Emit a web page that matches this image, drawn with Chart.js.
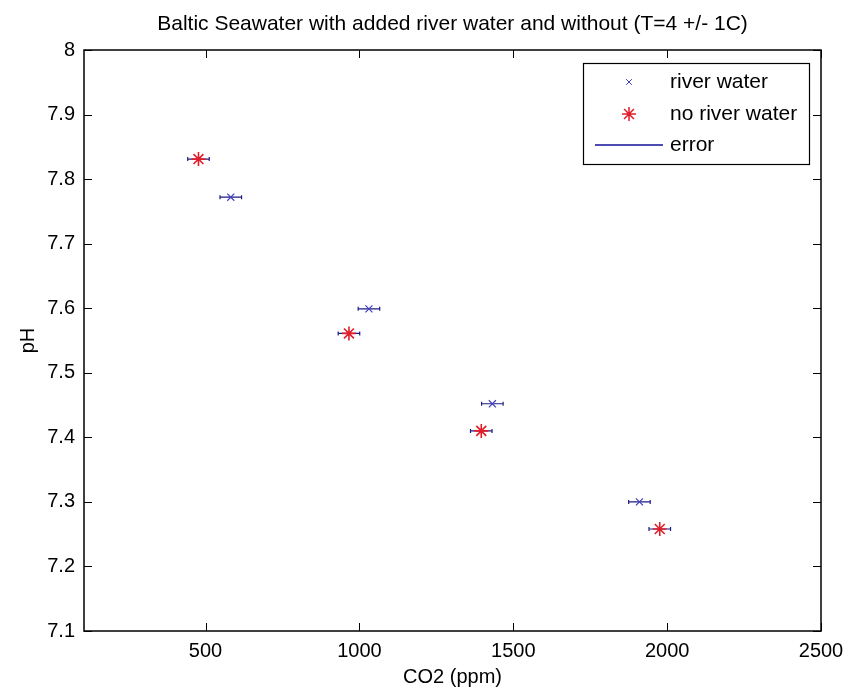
<!DOCTYPE html>
<html>
<head>
<meta charset="utf-8">
<script src="https://cdn.jsdelivr.net/npm/chart.js@4"></script>
<style>
  html, body { margin: 0; padding: 0; background: #fff; }
  #wrap { width: 846px; height: 690px; }
</style>
</head>
<body>
<div id="wrap"><canvas id="c" width="846" height="690"></canvas></div>
<script>
// ── Data ─────────────────────────────────────────
const riverCO2     = [582, 1031, 1432, 1910];
const riverPH      = [7.772, 7.599, 7.452, 7.300];
const riverErr     = [35, 35, 35, 35];
const noRiverCO2   = [477, 966, 1396, 1976];
const noRiverPH    = [7.831, 7.561, 7.410, 7.258];
const noRiverErr   = [35, 35, 35, 35];
const xTicks       = [500, 1000, 1500, 2000, 2500];
const yTicks       = [7.1, 7.2, 7.3, 7.4, 7.5, 7.6, 7.7, 7.8, 7.9, 8];
const legendLabels = ['river water', 'no river water', 'error'];

const FONT = "'Liberation Sans', Arial, sans-serif";
const ERR_COLOR = '#1c1c86';

const pts = (xs, ys) => xs.map((x, i) => ({ x: x, y: ys[i] }));

// ── Frame, ticks, error bars, titles, legend ────
const matlabFrame = {
  id: 'matlabFrame',
  beforeDatasetsDraw(chart) {
    const ctx = chart.ctx, xs = chart.scales.x, ys = chart.scales.y;
    ctx.save();
    ctx.strokeStyle = ERR_COLOR;
    ctx.lineWidth = 1.2;
    [[riverCO2, riverPH, riverErr], [noRiverCO2, noRiverPH, noRiverErr]].forEach(([cx, py, er]) => {
      cx.forEach((v, i) => {
        const x0 = xs.getPixelForValue(v - er[i]);
        const x1 = xs.getPixelForValue(v + er[i]);
        const y  = ys.getPixelForValue(py[i]);
        ctx.beginPath();
        ctx.moveTo(x0, y); ctx.lineTo(x1, y);
        ctx.moveTo(x0, y - 2); ctx.lineTo(x0, y + 2);
        ctx.moveTo(x1, y - 2); ctx.lineTo(x1, y + 2);
        ctx.stroke();
      });
    });
    ctx.restore();
  },
  afterDraw(chart) {
    const ctx = chart.ctx, a = chart.chartArea, xs = chart.scales.x, ys = chart.scales.y;
    ctx.save();
    ctx.strokeStyle = '#000';
    ctx.lineWidth = 1.5;
    ctx.strokeRect(a.left, a.top, a.right - a.left, a.bottom - a.top);
    // inward ticks on all four sides
    ctx.lineWidth = 1;
    ctx.beginPath();
    xTicks.forEach(t => {
      const x = Math.round(xs.getPixelForValue(t)) + 0.5;
      ctx.moveTo(x, a.bottom); ctx.lineTo(x, a.bottom - 8);
      ctx.moveTo(x, a.top);    ctx.lineTo(x, a.top + 8);
    });
    yTicks.forEach(t => {
      const y = Math.round(ys.getPixelForValue(t)) + 0.5;
      ctx.moveTo(a.left, y);  ctx.lineTo(a.left + 8, y);
      ctx.moveTo(a.right, y); ctx.lineTo(a.right - 8, y);
    });
    ctx.stroke();

    // titles
    ctx.fillStyle = '#000';
    ctx.textAlign = 'center';
    ctx.textBaseline = 'middle';
    ctx.font = '21px ' + FONT;
    ctx.fillText('Baltic Seawater with added river water and without (T=4 +/- 1C)', (a.left + a.right) / 2, 24);
    ctx.font = '20px ' + FONT;
    ctx.fillText('CO2 (ppm)', (a.left + a.right) / 2, 677);
    ctx.save();
    ctx.translate(28, (a.top + a.bottom) / 2);
    ctx.rotate(-Math.PI / 2);
    ctx.fillText('pH', 0, 0);
    ctx.restore();

    // legend
    const L = 583, T = 63, W = 226, H = 101;
    ctx.fillStyle = '#fff';
    ctx.fillRect(L, T, W, H);
    ctx.strokeStyle = '#000';
    ctx.lineWidth = 1.2;
    ctx.strokeRect(L + 0.5, T + 0.5, W, H);
    ctx.font = '21px ' + FONT;
    ctx.textAlign = 'left';
    ctx.fillStyle = '#000';
    const rows = [82, 114, 145];
    legendLabels.forEach((t, i) => ctx.fillText(t, 670, rows[i]));
    ctx.strokeStyle = '#4040c0';
    ctx.lineWidth = 1;
    Chart.helpers.drawPoint(ctx, { pointStyle: 'crossRot', radius: 4, borderWidth: 1 }, 629, rows[0]);
    ctx.strokeStyle = '#e21d2a';
    ctx.lineWidth = 1.5;
    Chart.helpers.drawPoint(ctx, { pointStyle: 'star', radius: 7, borderWidth: 1.5 }, 629, rows[1]);
    ctx.strokeStyle = '#10109a';
    ctx.lineWidth = 1.5;
    ctx.beginPath();
    ctx.moveTo(595, rows[2]); ctx.lineTo(663, rows[2]);
    ctx.stroke();
    ctx.restore();
  }
};

// ── Chart ────────────────────────────────────────
new Chart(document.getElementById('c'), {
  type: 'scatter',
  data: {
    datasets: [
      {
        label: legendLabels[0],
        data: pts(riverCO2, riverPH),
        pointStyle: 'crossRot',
        pointRadius: 5,
        borderColor: '#4040c0',
        backgroundColor: '#4040c0',
        borderWidth: 1.2,
      },
      {
        label: legendLabels[1],
        data: pts(noRiverCO2, noRiverPH),
        pointStyle: 'star',
        pointRadius: 7,
        borderColor: '#e21d2a',
        backgroundColor: '#e21d2a',
        borderWidth: 1.6,
      },
    ],
  },
  options: {
    responsive: false,
    animation: false,
    layout: { padding: { left: 0, right: 25, top: 50, bottom: 0 } },
    plugins: { legend: { display: false }, title: { display: false }, tooltip: { enabled: false } },
    scales: {
      x: {
        type: 'linear',
        min: 105, max: 2500,
        grid: { display: false },
        border: { display: false },
        afterFit: s => { s.height = 59; },
        afterBuildTicks: s => { s.ticks = xTicks.map(v => ({ value: v })); },
        ticks: { color: '#000', padding: 0, font: { family: FONT, size: 20 }, maxRotation: 0, callback: v => String(v) },
      },
      y: {
        min: 7.1, max: 8,
        grid: { display: false },
        border: { display: false },
        afterFit: s => { s.width = 84; },
        afterBuildTicks: s => { s.ticks = yTicks.map(v => ({ value: v })); },
        ticks: { color: '#000', padding: 1, font: { family: FONT, size: 20 }, callback: v => String(Math.round(v * 10) / 10) },
      },
    },
  },
  plugins: [matlabFrame],
});
</script>
</body>
</html>
